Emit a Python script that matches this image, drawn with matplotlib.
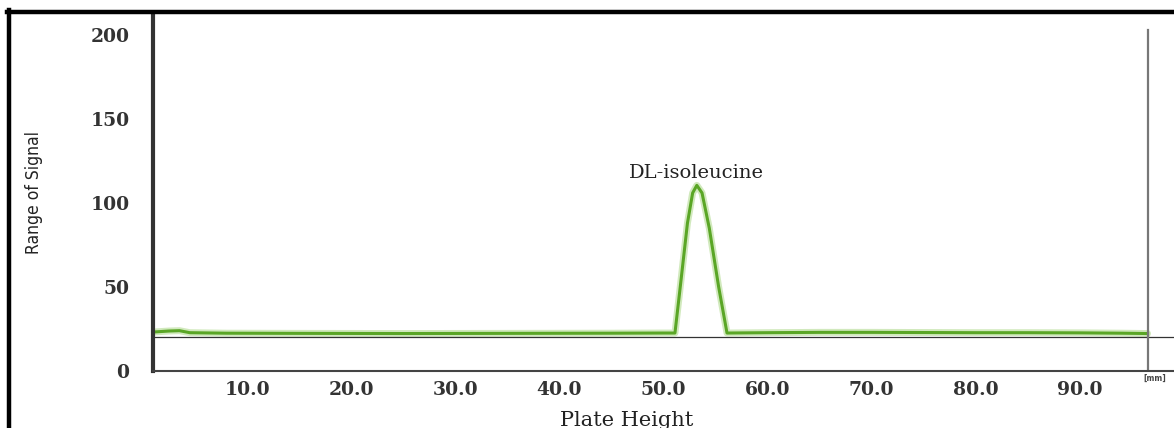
import matplotlib.pyplot as plt
from matplotlib.lines import Line2D

# signal trace (plate height in mm, signal)
plate_height = [1.0, 2.5, 3.5, 4.5, 8.0, 15.0, 25.0, 35.0, 45.0, 50.0, 51.1,
                51.7, 52.3, 52.8, 53.2, 53.7, 54.4, 55.3, 56.1, 60.0, 65.0,
                70.0, 75.0, 80.0, 85.0, 90.0, 94.0, 96.5]
signal = [23.2, 23.8, 24.0, 22.8, 22.5, 22.4, 22.3, 22.4, 22.5, 22.6, 22.6,
          55.0, 88.0, 106.0, 110.5, 106.0, 85.0, 50.0, 22.6, 22.8, 23.0,
          23.0, 22.9, 22.8, 22.8, 22.7, 22.5, 22.3]

baseline_level = 20
end_of_run = 96.5
peak_x = 53.2
peak_y = 110.5
peak_name = 'DL-isoleucine'

x_ticks = [10, 20, 30, 40, 50, 60, 70, 80, 90]
x_tick_labels = ['10.0', '20.0', '30.0', '40.0', '50.0', '60.0', '70.0', '80.0', '90.0']
y_ticks = [0, 50, 100, 150, 200]

W, H = 1174, 428
fig = plt.figure(figsize=(W / 100, H / 100), dpi=100)
ax = fig.add_axes([153 / W, (H - 371) / H, (W - 153) / W, (371 - 14) / H])

ax.plot(plate_height, signal, color='#7cc242', linewidth=5, alpha=0.35, solid_capstyle='round')
ax.plot(plate_height, signal, color='#5aa626', linewidth=2.2)
ax.axhline(baseline_level, color='#333333', linewidth=0.9)
ax.plot([end_of_run, end_of_run], [0, 203], color='#777777', linewidth=1.6)

ax.text(peak_x, peak_y + 2, peak_name, ha='center', va='bottom',
        fontsize=14, family='DejaVu Serif', color='#222222')

ax.set_xlim(0.96, 99.04)
ax.set_ylim(0, 212.5)

ax.set_xticks(x_ticks)
ax.set_xticklabels(x_tick_labels)
ax.set_yticks(y_ticks)
for lab in ax.get_xticklabels() + ax.get_yticklabels():
    lab.set_family('DejaVu Serif')
    lab.set_fontweight('bold')
    lab.set_fontsize(13.5)
    lab.set_color('#333333')
ax.tick_params(axis='x', length=0, pad=7)
ax.tick_params(axis='y', length=0, pad=17)

ax.set_xlabel('Plate Height', family='DejaVu Serif', fontsize=15, color='#222222')
ax.xaxis.set_label_coords(0.464, -0.112)
ax.set_ylabel('Range of Signal', family='DejaVu Sans', fontstretch='condensed',
              fontsize=12.5, color='#222222', labelpad=34)

ax.spines['top'].set_visible(False)
ax.spines['right'].set_visible(False)
ax.spines['left'].set_linewidth(3)
ax.spines['left'].set_color('#333333')
ax.spines['bottom'].set_linewidth(1.5)
ax.spines['bottom'].set_color('#444444')

fig.text(1155 / W, 1 - 378 / H, '[mm]', ha='center', va='center',
         fontsize=5.5, fontweight='bold', color='#444444')

# outer frame (top and left edges of the original box)
fig.add_artist(Line2D([7 / W, 1.0], [1 - 12 / H, 1 - 12 / H], transform=fig.transFigure,
                      color='black', linewidth=3.2))
fig.add_artist(Line2D([8.5 / W, 8.5 / W], [1 - 10 / H, 0.0], transform=fig.transFigure,
                      color='black', linewidth=3.2))

fig.savefig('out.png', dpi=100)
